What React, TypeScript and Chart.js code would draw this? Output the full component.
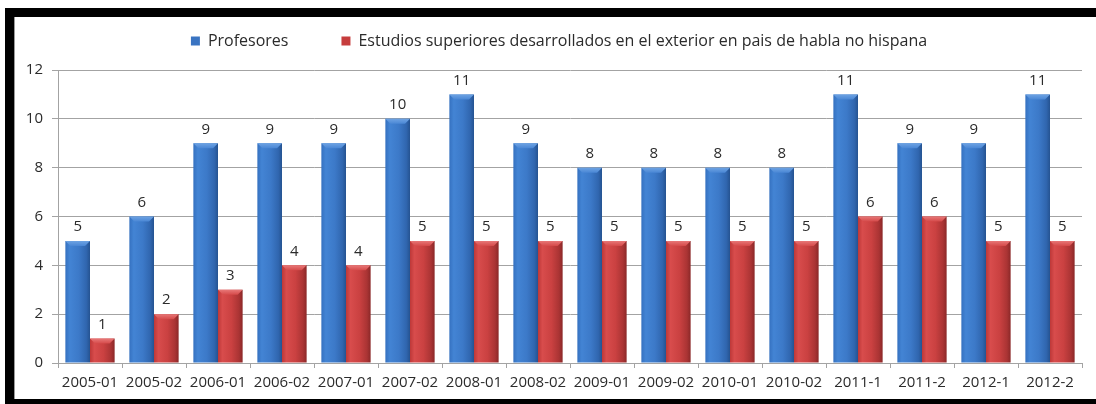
import React, { useEffect, useRef } from "react";
import { Chart, registerables, layouts } from "chart.js";

Chart.register(...registerables);

const categories = [
  "2005-01", "2005-02", "2006-01", "2006-02", "2007-01", "2007-02", "2008-01", "2008-02",
  "2009-01", "2009-02", "2010-01", "2010-02", "2011-1", "2011-2", "2012-1", "2012-2",
];
const profesores = [5, 6, 9, 9, 9, 10, 11, 9, 8, 8, 8, 8, 11, 9, 9, 11];
const estudios = [1, 2, 3, 4, 4, 5, 5, 5, 5, 5, 5, 5, 6, 6, 5, 5];
const seriesNames = [
  "Profesores",
  "Estudios superiores desarrollados en el exterior en pais de habla no hispana",
];
const yMin = 0;
const yMax = 12;
const yStep = 2;

const FONT = "'Open Sans', sans-serif";
const GRID = "#a3a3a3";
const TEXT = "#2b2b2b";

const palettes = [
  { base: "#3a74c2", stops: ["#3571c0", "#4384d4", "#3c79c8", "#3066af", "#255391"], cap: ["#6ea3e3", "#4a87d5"] },
  { base: "#c63d3d", stops: ["#bd3838", "#d84c4c", "#ca4141", "#aa3434", "#8b2828"], cap: ["#e87878", "#d54a4a"] },
];

const gradientPlugin = {
  id: "barGradient",
  beforeDatasetsDraw(chart: any) {
    const ctx = chart.ctx;
    chart.data.datasets.forEach((_ds: any, di: number) => {
      const meta = chart.getDatasetMeta(di);
      const pal = palettes[di];
      meta.data.forEach((el: any) => {
        const { x, width } = el.getProps(["x", "width"], true);
        const g = ctx.createLinearGradient(x - width / 2, 0, x + width / 2, 0);
        const pos = [0, 0.18, 0.55, 0.85, 1];
        pal.stops.forEach((c: string, i: number) => g.addColorStop(pos[i], c));
        el.options = Object.assign({}, el.options, { backgroundColor: g });
      });
    });
  },
  afterDatasetsDraw(chart: any) {
    const ctx = chart.ctx;
    ctx.save();
    chart.data.datasets.forEach((ds: any, di: number) => {
      const meta = chart.getDatasetMeta(di);
      const pal = palettes[di];
      meta.data.forEach((el: any, i: number) => {
        const { x, y, width } = el.getProps(["x", "y", "width"], true);
        const x0 = x - width / 2;
        const x1 = x + width / 2;
        const b = 5;
        const g = ctx.createLinearGradient(0, y, 0, y + b);
        g.addColorStop(0, pal.cap[0]);
        g.addColorStop(1, pal.cap[1]);
        ctx.fillStyle = g;
        ctx.beginPath();
        ctx.moveTo(x0, y);
        ctx.lineTo(x1, y);
        ctx.lineTo(x1 - b, y + b);
        ctx.lineTo(x0 + b, y + b);
        ctx.closePath();
        ctx.fill();
        ctx.fillStyle = TEXT;
        ctx.font = `15px ${FONT}`;
        ctx.textAlign = "center";
        ctx.textBaseline = "middle";
        ctx.fillText(String(ds.data[i]), x, y - 14);
      });
    });
    ctx.restore();
  },
};

function makeSpacer(position: string, size: number) {
  const horizontal = position === "top" || position === "bottom";
  return {
    position,
    weight: 500,
    fullSize: false,
    options: {},
    width: 0,
    height: 0,
    left: 0,
    top: 0,
    right: 0,
    bottom: 0,
    isHorizontal() {
      return horizontal;
    },
    update(maxWidth: number, maxHeight: number) {
      if (horizontal) {
        this.width = maxWidth;
        this.height = size;
      } else {
        this.width = size;
        this.height = maxHeight;
      }
    },
    draw() {},
  };
}

const spacerPlugin = {
  id: "layoutSpacers",
  beforeInit(chart: any) {
    layouts.addBox(chart, makeSpacer("top", 11) as any);
    layouts.addBox(chart, makeSpacer("right", 14) as any);
  },
};

export default function App() {
  const ref = useRef<HTMLCanvasElement | null>(null);

  useEffect(() => {
    if (!ref.current) return;
    Chart.defaults.font.family = FONT;
    const chart = new Chart(ref.current, {
      type: "bar",
      data: {
        labels: categories,
        datasets: [
          {
            label: seriesNames[0],
            data: profesores,
            backgroundColor: palettes[0].base,
            borderWidth: 0,
            barPercentage: 1,
            categoryPercentage: 0.77,
          },
          {
            label: seriesNames[1],
            data: estudios,
            backgroundColor: palettes[1].base,
            borderWidth: 0,
            barPercentage: 1,
            categoryPercentage: 0.77,
          },
        ],
      },
      options: {
        responsive: false,
        animation: false,
        devicePixelRatio: 1,
        layout: { padding: { top: 0, left: 22, right: 0, bottom: 0 } },
        plugins: {
          tooltip: { enabled: false },
          legend: {
            display: true,
            position: "top",
            labels: {
              boxWidth: 9,
              boxHeight: 9,
              padding: 53,
              color: TEXT,
              font: { size: 16, family: FONT },
            },
          },
        },
        scales: {
          x: {
            offset: true,
            grid: {
              offset: true,
              drawOnChartArea: false,
              drawTicks: true,
              tickLength: 5,
              color: GRID,
            },
            border: { display: true, color: GRID },
            ticks: {
              color: TEXT,
              font: { size: 15, family: FONT },
              padding: 6,
              maxRotation: 0,
              autoSkip: false,
            },
            afterFit(scale: any) {
              scale.height = 41;
            },
          },
          y: {
            min: yMin,
            max: yMax,
            ticks: {
              stepSize: yStep,
              color: TEXT,
              font: { size: 15, family: FONT },
              padding: 9,
            },
            grid: { color: GRID, tickLength: 6, drawTicks: true },
            border: { display: true, color: GRID },
            afterFit(scale: any) {
              scale.width = 36;
            },
          },
        },
      },
      plugins: [gradientPlugin, spacerPlugin],
    } as any);
    return () => chart.destroy();
  }, []);

  return (
    <div
      style={{
        position: "fixed",
        left: 0,
        top: 0,
        width: 1096,
        height: 404,
        overflow: "hidden",
        background: "#ffffff",
      }}
    >
      <div
        style={{
          position: "absolute",
          left: 5,
          top: 8,
          width: 1091,
          height: 396,
          boxSizing: "border-box",
          borderTop: "9px solid #000",
          borderLeft: "9px solid #000",
          borderBottom: "5px solid #000",
          background: "#fff",
        }}
      >
        <div
          style={{
            position: "absolute",
            left: 0,
            top: 0,
            bottom: 0,
            width: 1,
            background: "#9a9a9a",
          }}
        />
      </div>
      <canvas
        ref={ref}
        width={1096}
        height={424}
        style={{ position: "absolute", left: 0, top: -20, width: 1096, height: 424 }}
      />
    </div>
  );
}
